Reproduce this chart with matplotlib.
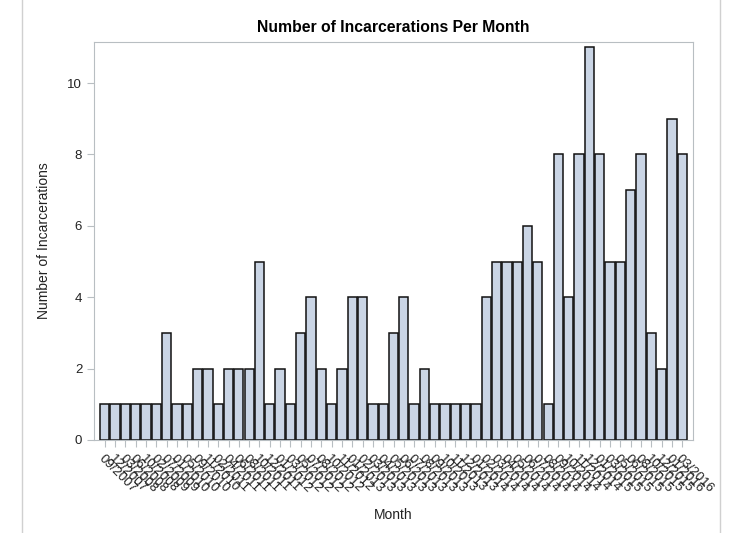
import numpy as np
import matplotlib
matplotlib.use('Agg')
import matplotlib.pyplot as plt
from matplotlib.lines import Line2D

plt.rcParams['font.family'] = ['Liberation Sans', 'DejaVu Sans']

# Meses (rotulos do eixo x) - apenas meses com encarceramentos
meses = ['09/2007', '12/2007',
         '03/2008', '06/2008', '10/2008',
         '02/2009', '07/2009',
         '01/2010', '05/2010', '09/2010', '11/2010',
         '02/2011', '04/2011', '06/2011', '08/2011', '10/2011', '12/2011',
         '01/2012', '03/2012', '05/2012', '07/2012', '08/2012', '10/2012', '11/2012',
         '01/2013', '02/2013', '03/2013', '04/2013', '05/2013', '06/2013',
         '07/2013', '08/2013', '09/2013', '10/2013', '11/2013', '12/2013',
         '01/2014', '02/2014', '03/2014', '04/2014', '05/2014', '06/2014',
         '07/2014', '08/2014', '09/2014', '10/2014', '11/2014', '12/2014',
         '01/2015', '03/2015', '05/2015', '06/2015', '08/2015', '10/2015', '12/2015',
         '01/2016', '03/2016']

# Numero de encarceramentos por mes
contagem = [1, 1, 1, 1, 1, 1, 3, 1, 1, 2, 2, 1, 2, 2, 2, 5, 1, 2, 1, 3,
            4, 2, 1, 2, 4, 4, 1, 1, 3, 4, 1, 2, 1, 1, 1, 1, 1, 4, 5, 5,
            5, 6, 5, 1, 8, 4, 8, 11, 8, 5, 5, 7, 8, 3, 2, 9, 8]

fig = plt.figure(figsize=(7.31, 5.33), dpi=100)
ax = fig.add_axes([94/731, 1 - 440/533, (693 - 94)/731, (440 - 42)/533])

x = np.arange(len(contagem))
ax.bar(x, contagem, width=0.9, color='#CAD5E5', edgecolor='#111111', linewidth=1.1)

ax.set_xlim(-1.05, len(contagem) + 0.05)
ax.set_ylim(0, 11.15)
ax.set_yticks([0, 2, 4, 6, 8, 10])
ax.set_xticks(x)
ax.set_xticklabels(meses, rotation=-45, ha='left', rotation_mode='anchor', fontsize=9.5)

for s in ax.spines.values():
    s.set_color('#B8BEC2')
ax.tick_params(colors='#B8BEC2', labelcolor='#222222', length=5, labelsize=9.5)
ax.tick_params(axis='x', pad=4)

ax.set_title('Number of Incarcerations Per Month', fontsize=11.3, fontweight='bold', pad=7)
ax.set_ylabel('Number of Incarcerations', fontsize=10, color='#222222', labelpad=12)
fig.text(393/731, 1 - 515/533, 'Month', ha='center', va='center', fontsize=10, color='#222222')

# Bordas cinzas da figura
fig.add_artist(Line2D([22/731, 22/731], [0, 1], color='#D0D0D0', lw=1))
fig.add_artist(Line2D([720/731, 720/731], [0, 1], color='#D0D0D0', lw=1))

fig.savefig('out.png', dpi=100)
